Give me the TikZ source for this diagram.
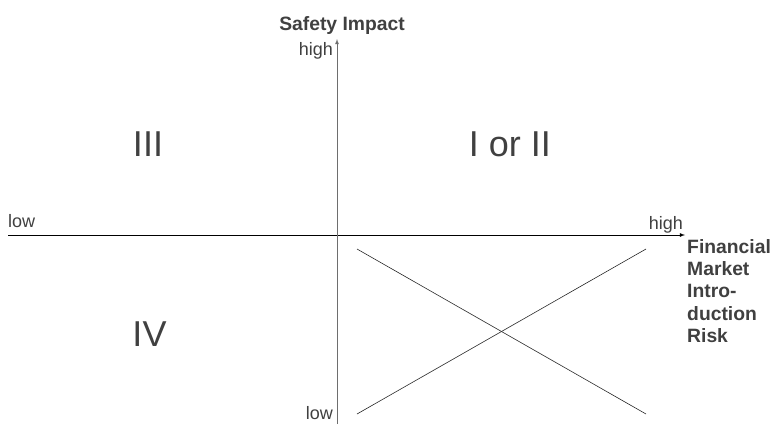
\documentclass[tikz,border=0pt]{standalone}
\usepackage{fontspec}
\setmainfont{Liberation Sans}
\usetikzlibrary{arrows, positioning}
\definecolor{textgray}{RGB}{64,64,64}
\definecolor{axisgray}{RGB}{110,110,110}
\definecolor{linegray}{RGB}{40,40,40}
\tikzstyle{axis-label}=[inner sep=0pt, text=textgray, font=\fontsize{18}{22.3}\selectfont]
\tikzstyle{axis-title}=[inner sep=0pt, text=textgray, font=\fontsize{19.3}{22.3}\selectfont\bfseries]
\tikzstyle{quadrant}=[inner sep=0pt, text=textgray, font=\fontsize{36}{40}\selectfont]
\tikzstyle{cross}=[draw=linegray, line width=0.6pt]

\begin{document}
\begin{tikzpicture}[x=1pt, y=-1pt]
\useasboundingbox (0,0) rectangle (775,424);

% axes
\coordinate (xstart) at (8,235);
\coordinate (xend) at (685,235);
\coordinate (ystart) at (337,424);
\coordinate (yend) at (337,39);
\draw [-latex][line width=0.8pt, draw=black] (xstart) -- (xend);
\draw [-latex][line width=0.8pt, draw=axisgray] (ystart) -- (yend);

\node[axis-title, anchor=base] (safety) at (342,30) {Safety Impact};
\node[axis-label, anchor=base east] (yhigh) at (333,55) {high};
\node[axis-label, anchor=base east] (ylow) at (333,419) {low};
\node[axis-label, anchor=base west] (xlow) at (8,227) {low};
\node[axis-label, anchor=base east] (xhigh) at (683,229) {high};
\node[axis-title, anchor=north west, align=left] (risk) at (687,239) {Financial\\Market\\Intro-\\duction\\Risk};

% quadrants
\node[quadrant] (q3) at (148,144) {III};
\node[quadrant] (q12) at (510,144) {I or II};
\node[quadrant] (q4) at (149.5,334.5) {IV};

% cross
\coordinate (ca) at (357,249);
\coordinate (cb) at (646,414);
\coordinate (cc) at (357,414);
\coordinate (cd) at (646,249);
\draw [cross] (ca) -- (cb);
\draw [cross] (cc) -- (cd);
\end{tikzpicture}
\end{document}
